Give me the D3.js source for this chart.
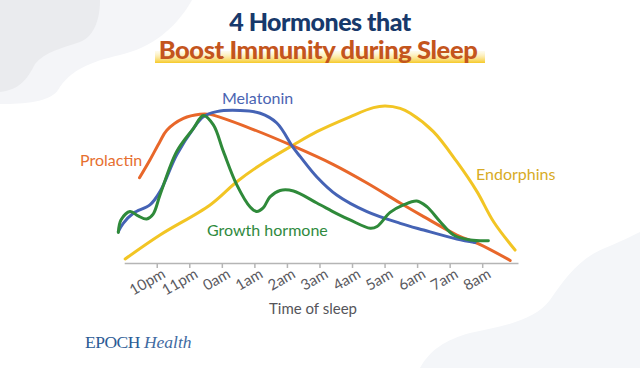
<!DOCTYPE html>
<html><head><meta charset="utf-8">
<script src="https://cdn.jsdelivr.net/npm/d3@7/dist/d3.min.js"></script>
<style>html,body{margin:0;padding:0;background:#fff;}svg{display:block;}</style>
</head><body>
<script>
// ---- data (x in hours after 10pm, y relative level 0-100) ----
const tickLabels = ["10pm","11pm","0am","1am","2am","3am","4am","5am","6am","7am","8am"];
const prolactinX = [-0.53,-0.21,0.10,0.31,0.82,1.33,1.64,2.87,4.2,5.43,6.46,7.48,8.2,9.22,9.94,10.86];
const prolactinY = [53.3,64.4,76,83,90.4,93,92.9,84.2,73,61.5,50,37.5,29,17.5,11.5,1.6];
const melatoninX = [-1.18,-1.03,-0.72,-0.21,0.10,0.61,1.13,1.43,1.84,2.56,3.18,3.69,4.2,4.41,4.92,5.53,6.46,7.48,8.2,9.22,9.78];
const melatoninY = [19.6,24.8,31.1,36.3,44.6,67.5,84.2,91.4,94.6,95.3,93.6,87.5,71.9,66.5,53.8,42.5,32.1,24.8,20.6,15,12.8];
const growthX = [-1.18,-1.10,-0.82,-0.57,-0.31,-0.11,0.10,0.61,1.13,1.43,1.74,2.05,2.46,2.87,3.07,3.27,3.48,3.79,4.2,4.92,5.53,5.94,6.56,6.77,7.17,7.58,7.99,8.3,8.71,9.12,9.63,10.19];
const growthY = [19.1,26.9,32.2,29.4,27.5,30.6,42.5,69.6,84.2,92.2,86.3,69.6,48.8,35,32.2,34.4,41.3,45.3,45,37.5,30.9,26.9,21.7,22.8,31.6,36.3,38.8,35.2,25.8,17.5,14.4,13.9];
const endorphinX = [-0.97,0.10,1.64,2.46,3.18,4.2,4.92,5.94,6.66,7.02,7.48,7.79,8.5,9.22,9.84,10.35,11.01];
const endorphinY = [2.5,17.5,36.3,50.8,61.3,73.8,82.1,91.4,97.1,98.1,96.6,93.6,82.1,63.3,44.6,25.8,8.1];
const seriesNames = ["Endorphins","Prolactin","Melatonin","Growth hormone"];

const W = 640, H = 368;
const svg = d3.select("body").append("svg").attr("width", W).attr("height", H);

// background decoration
svg.append("path").attr("fill", "#f4f5f8")
  .attr("d", "M0,0 L192,0 C175,30 150,48 120,55 C90,62 70,70 58,90 C50,102 25,104 0,104 Z");
svg.append("path").attr("fill", "#eaebee")
  .attr("d", "M0,0 L100,0 C100,18 95,36 80,42 C62,48 45,52 35,64 C28,78 20,90 0,92 Z");
svg.append("path").attr("fill", "#f4f6f9")
  .attr("d", "M420,368 C430,350 445,340 470,333 C505,326 535,320 550,300 C565,278 580,258 605,248 C620,242 632,236 640,232 L640,368 Z");

// title
const defs = svg.append("defs");
const grad = defs.append("linearGradient").attr("id","hl").attr("x1",0).attr("y1",0).attr("x2",0).attr("y2",1);
grad.append("stop").attr("offset","0%").attr("stop-color","#fdf3c4").attr("stop-opacity",0.3);
grad.append("stop").attr("offset","100%").attr("stop-color","#f6c928");
svg.append("rect").attr("x",155).attr("y",51).attr("width",330).attr("height",12).attr("fill","url(#hl)");
svg.append("text").attr("x",320).attr("y",31).attr("text-anchor","middle")
  .attr("font-family","Lato").attr("font-weight",900).attr("font-size",25).attr("fill","#17396b")
  .attr("letter-spacing",-0.5).text("4 Hormones that");
svg.append("text").attr("x",318).attr("y",59).attr("text-anchor","middle")
  .attr("font-family","Lato").attr("font-weight",900).attr("font-size",25.5).attr("fill","#c4551d")
  .attr("letter-spacing",-0.4).text("Boost Immunity during Sleep");

// scales
const x = d3.scaleLinear().domain([-1, 11.1]).range([124.2, 518]);
const y = d3.scaleLinear().domain([0, 100]).range([263, 103]);

// axis
const axisG = svg.append("g").attr("transform", "translate(0,263)");
axisG.call(d3.axisBottom(x).tickValues(d3.range(0, 11)).tickSize(5).tickSizeOuter(0).tickFormat(""));
axisG.select(".domain").attr("stroke","#b5b5b5").attr("stroke-width",1.5);
axisG.selectAll(".tick line").attr("stroke","#b5b5b5").attr("stroke-width",1.5);
svg.append("g").selectAll("text").data(tickLabels).join("text")
  .attr("transform", (d,i) => `translate(${x(i)+4},${267}) rotate(-30)`)
  .attr("text-anchor","end").attr("dy","0.75em")
  .attr("font-family","Lato").attr("font-size",15).attr("fill","#5a5a5f").text(d => d);
svg.append("text").attr("x",313).attr("y",314).attr("text-anchor","middle")
  .attr("font-family","Lato").attr("font-size",15).attr("fill","#55555a").text("Time of sleep");

// lines
const line = d3.line().x(d => x(d[0])).y(d => y(d[1])).curve(d3.curveCatmullRom.alpha(0.5));
const series = [
  {name: seriesNames[0], xs: endorphinX, ys: endorphinY, color: "#f2c524"},
  {name: seriesNames[1], xs: prolactinX, ys: prolactinY, color: "#e8672a"},
  {name: seriesNames[2], xs: melatoninX, ys: melatoninY, color: "#4563b5"},
  {name: seriesNames[3], xs: growthX, ys: growthY, color: "#2f8a3a"}
];
svg.append("g").selectAll("path").data(series).join("path")
  .attr("d", s => line(s.xs.map((v,i) => [v, s.ys[i]])))
  .attr("fill","none").attr("stroke", s => s.color).attr("stroke-width",3).attr("stroke-linecap","round");

// series labels
const labels = [
  {t: seriesNames[1], px: 80, py: 166, color: "#e66f30", anchor: "start"},
  {t: seriesNames[2], px: 222, py: 104, color: "#4a64b2", anchor: "start"},
  {t: seriesNames[3], px: 207, py: 236, color: "#2f8a3e", anchor: "start"},
  {t: seriesNames[0], px: 476, py: 180, color: "#d8ab25", anchor: "start"}
];
svg.append("g").selectAll("text").data(labels).join("text")
  .attr("x", d => d.px).attr("y", d => d.py).attr("text-anchor", d => d.anchor)
  .attr("font-family","Lato").attr("font-size",16).attr("fill", d => d.color).text(d => d.t);

// logo
const logo = svg.append("text").attr("x",85).attr("y",348).attr("font-family","Liberation Serif").attr("font-size",17.5).attr("fill","#2b5b95");
logo.append("tspan").attr("letter-spacing",-0.5).text("EPOCH");
logo.append("tspan").attr("font-style","italic").attr("dx",4).attr("fill","#3f6ba2").text("Health");
</script>
</body></html>
